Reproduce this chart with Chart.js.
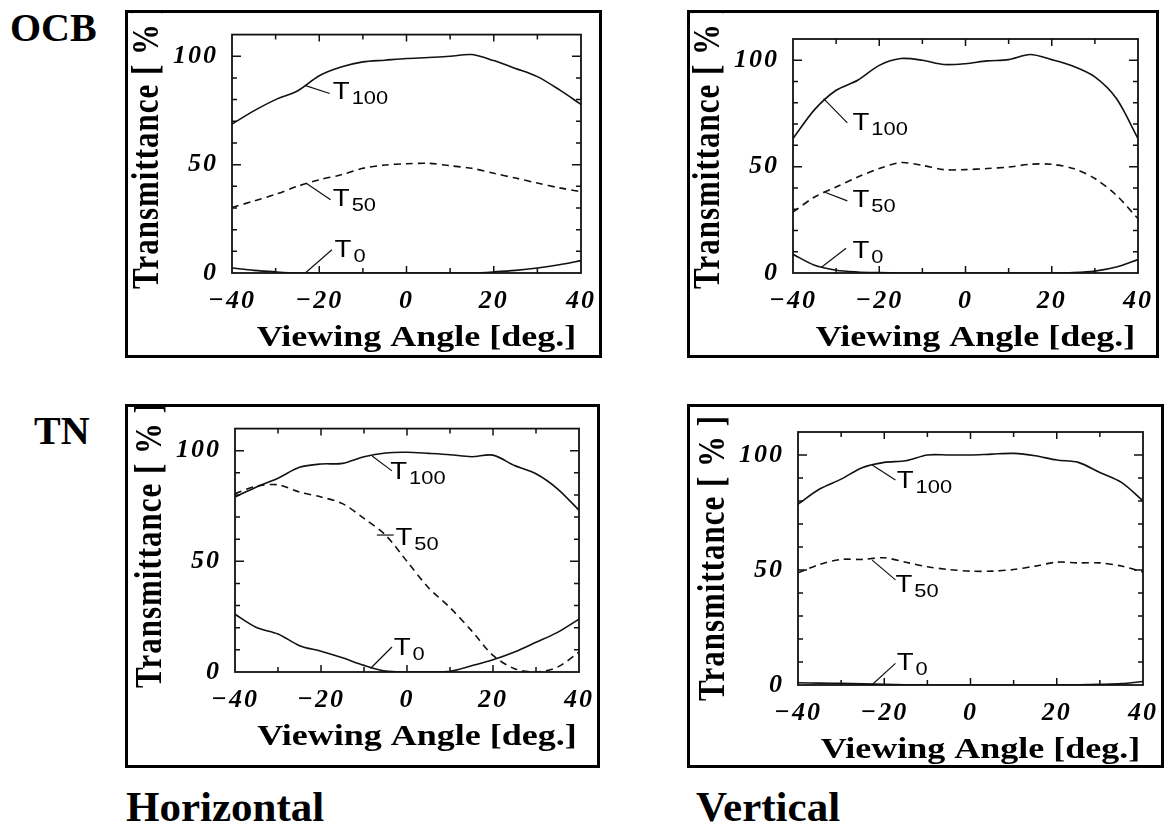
<!DOCTYPE html>
<html>
<head>
<meta charset="utf-8">
<script src="https://cdn.jsdelivr.net/npm/chart.js@4.4.1/dist/chart.umd.min.js"></script>
<style>
  html, body { margin: 0; padding: 0; background: #fff; }
  body { width: 1168px; height: 825px; position: relative; overflow: hidden; }
  .panel { position: absolute; border: 3px solid #000; box-sizing: border-box; background: #fff; }
  .panel canvas { display: block; }
  .tag { position: absolute; font: bold 40px/40px "Liberation Serif", "Times New Roman", serif; color: #000; white-space: nowrap; }
  .tag.big { font-size: 43px; line-height: 43px; }
</style>
</head>
<body>
<div class="tag" style="left:10px; top:8px;">OCB</div>
<div class="tag" style="left:34px; top:411px;">TN</div>
<div class="tag big" style="left:126px; top:785px;">Horizontal</div>
<div class="tag big" style="left:696px; top:785px;">Vertical</div>

<div class="panel" style="left:125px; top:10px; width:477px; height:348px;"><canvas id="ocbH" width="471" height="342"></canvas></div>
<div class="panel" style="left:687px; top:10px; width:472px; height:348px;"><canvas id="ocbV" width="466" height="342"></canvas></div>
<div class="panel" style="left:125px; top:404px; width:475px; height:364px;"><canvas id="tnH" width="469" height="358"></canvas></div>
<div class="panel" style="left:687px; top:404px; width:477px; height:364px;"><canvas id="tnV" width="471" height="358"></canvas></div>

<script>
// Viewing angles (deg.) at which transmittance was sampled
const angles = [-40, -35, -30, -25, -20, -15, -10, -5, 0, 5, 10, 15, 20, 25, 30, 35, 40];

// OCB cell, horizontal direction (%)
const ocbHorizT100 = [68.7, 74.8, 80, 84, 91, 95, 97.4, 98.2, 99, 99.4, 100, 100.8, 98, 94.4, 90.6, 84.6, 77.8];
const ocbHorizT50  = [30.2, 33.2, 36.3, 40, 43, 45.3, 48.3, 49.8, 50.4, 50.6, 49.5, 48.3, 46, 43.8, 41.5, 39.3, 37.5];
const ocbHorizT0   = [2.3, 1.2, 0.5, 0, 0, 0, 0, 0, 0, 0, 0, 0, 0.5, 1.2, 2.3, 3.8, 5.7];

// OCB cell, vertical direction (%)
const ocbVertT100 = [63.2, 76.8, 85.9, 90.6, 97.6, 100.8, 100, 98, 98.4, 99.7, 100.3, 102.7, 100.3, 97.2, 92.2, 82, 63.2];
const ocbVertT50  = [28.7, 35.7, 40.4, 45.1, 49.1, 51.9, 50.6, 48.6, 48.6, 49.1, 49.8, 51.1, 51.1, 49.1, 44.4, 36.5, 25.5];
const ocbVertT0   = [8.8, 3.6, 1.3, 0.5, 0.2, 0, 0, 0, 0, 0, 0, 0, 0, 0.2, 0.9, 2.8, 6.3];

// TN cell, horizontal direction (%)
const tnHorizT100 = [79.1, 83.6, 87.6, 92.5, 94, 94.3, 97.3, 99, 99.3, 98.8, 98.2, 97.3, 98, 93.3, 89.6, 82.8, 73.1];
const tnHorizT50  = [80.6, 84, 84.6, 81.3, 79.1, 76.1, 69.4, 61.9, 50, 38.1, 29.1, 18.7, 7.5, 1.5, 0, 2.2, 9];
const tnHorizT0   = [26.1, 20.1, 17.2, 11.9, 9.4, 6.4, 3, 0.4, 0, 0, 0.3, 2.8, 5.5, 9, 13.4, 17.9, 23.9];

// TN cell, vertical direction (%)
const tnVertT100 = [78.6, 85.2, 89.5, 94.6, 96.8, 97.5, 100, 100, 100, 100.4, 100.7, 99.7, 97.8, 96.8, 92.4, 88.1, 80.1];
const tnVertT50  = [48.8, 52.4, 54.6, 54.6, 55.3, 53.4, 51.4, 50.2, 49.5, 49.5, 50.2, 51.7, 53.4, 53.1, 53.1, 51.7, 49.1];
const tnVertT0   = [1, 0.8, 0.7, 0.5, 0.3, 0.1, 0, 0, 0, 0, 0, 0, 0, 0.1, 0.3, 0.6, 1.5];

// Axis tick labels
const xMajorTicks = [-40, -20, 0, 20, 40];
const xTickLabels = ['\u221240', '\u221220', '0', '20', '40'];
const yMajorTicks = [0, 50, 100];
const yTickLabels = ['0', '50', '100'];

// Curve names: main letter + subscript
const curveMain = ['T', 'T', 'T'];
const curveSub  = ['100', '50', '0'];

const xTitle = 'Viewing Angle [deg.]';
const yTitle = 'Transmittance [ % ]';

const INK = '#111';
const TICK_FONT = { family: '"Liberation Serif", "Times New Roman", serif', size: 26, weight: 'bold', style: 'italic' };

function pairs(values) {
  return angles.map((a, i) => ({ x: a, y: values[i] }));
}

function stretchText(ctx, text, x, y, font, o) {
  ctx.save();
  ctx.translate(x, y);
  if (o.rotate) ctx.rotate(o.rotate);
  ctx.scale(o.sx || 1, o.sy || 1);
  ctx.font = font;
  ctx.letterSpacing = o.spacing || '0px';
  ctx.textAlign = o.align || 'left';
  ctx.textBaseline = o.baseline || 'alphabetic';
  ctx.fillStyle = '#000';
  ctx.fillText(text, 0, 0);
  ctx.restore();
}

// Spaced tick lettering while scales draw, plain spacing for everything after
const tickSpacing = {
  id: 'tickSpacing',
  beforeDraw(chart) { chart.ctx.letterSpacing = '2px'; },
  beforeDatasetsDraw(chart) { chart.ctx.letterSpacing = '0px'; }
};

// Plot frame with inward ticks on all four sides
const framePlugin = {
  id: 'frame',
  afterDatasetsDraw(chart) {
    const { ctx, chartArea: a, scales: { x, y } } = chart;
    ctx.save();
    ctx.strokeStyle = INK;
    ctx.lineWidth = 1.8;
    ctx.strokeRect(a.left, a.top, a.right - a.left, a.bottom - a.top);
    ctx.lineWidth = 1.5;
    ctx.beginPath();
    x.ticks.forEach(t => {
      if (t.value <= x.min || t.value >= x.max) return;
      const px = x.getPixelForValue(t.value);
      const len = xMajorTicks.includes(t.value) ? 7 : 5;
      ctx.moveTo(px, a.bottom); ctx.lineTo(px, a.bottom - len);
      ctx.moveTo(px, a.top); ctx.lineTo(px, a.top + len);
    });
    y.ticks.forEach(t => {
      if (t.value <= y.min || t.value >= y.max) return;
      const py = y.getPixelForValue(t.value);
      const len = yMajorTicks.includes(t.value) ? 9 : 5;
      ctx.moveTo(a.left, py); ctx.lineTo(a.left + len, py);
      ctx.moveTo(a.right, py); ctx.lineTo(a.right - len, py);
    });
    ctx.stroke();
    ctx.restore();
  }
};

// Axis titles and curve labels with leader lines
const notesPlugin = {
  id: 'notes',
  afterDraw(chart, args, opts) {
    const { ctx, chartArea: a, scales: { x, y } } = chart;
    const serif = '"Liberation Serif", "Times New Roman", serif';
    stretchText(ctx, xTitle, (a.left + a.right) / 2 + 10, a.bottom + 65,
      'bold 30px ' + serif, { align: 'center', baseline: 'middle', sx: 1.2 });
    stretchText(ctx, yTitle, a.left - 84, a.bottom + 16,
      'bold 31px ' + serif, { align: 'left', baseline: 'middle', rotate: -Math.PI / 2, sy: 1.2, spacing: '1px' });

    const sans = '"Liberation Sans", Arial, sans-serif';
    (opts.items || []).forEach(n => {
      ctx.save();
      ctx.strokeStyle = INK;
      ctx.lineWidth = 1.2;
      ctx.beginPath();
      ctx.moveTo(x.getPixelForValue(n.leader[0]), y.getPixelForValue(n.leader[1]));
      ctx.lineTo(x.getPixelForValue(n.leader[2]), y.getPixelForValue(n.leader[3]));
      ctx.stroke();
      ctx.restore();
      const px = x.getPixelForValue(n.at[0]);
      const py = y.getPixelForValue(n.at[1]);
      stretchText(ctx, curveMain[n.curve], px, py, '24px ' + sans, { sx: 1.15 });
      ctx.save();
      ctx.font = '24px ' + sans;
      const w = ctx.measureText(curveMain[n.curve]).width * 1.15;
      ctx.restore();
      stretchText(ctx, curveSub[n.curve], px + w + 2, py + 5, '19px ' + sans, { sx: 1.15 });
    });
  }
};

function makePanel(id, t100, t50, t0, g, notes) {
  new Chart(document.getElementById(id), {
    type: 'line',
    data: {
      datasets: [
        { label: 'T100', data: pairs(t100) },
        { label: 'T50', data: pairs(t50), borderDash: [7, 5] },
        { label: 'T0', data: pairs(t0) }
      ]
    },
    options: {
      responsive: false,
      animation: false,
      events: [],
      layout: { padding: { left: 0, top: g.top, right: g.right, bottom: 0 } },
      elements: {
        point: { radius: 0 },
        line: { borderWidth: 1.6, borderColor: INK, tension: 0.3, fill: false }
      },
      plugins: {
        legend: { display: false },
        tooltip: { enabled: false },
        title: { display: false },
        notes: { items: notes }
      },
      scales: {
        x: {
          type: 'linear', min: -40, max: 40,
          grid: { display: false }, border: { display: false },
          ticks: {
            stepSize: 10, autoSkip: false, maxRotation: 0, minRotation: 0, padding: 5,
            color: '#000', font: TICK_FONT,
            callback: v => { const i = xMajorTicks.indexOf(v); return i >= 0 ? xTickLabels[i] : ''; }
          },
          afterFit: s => { s.height = g.bottom; }
        },
        y: {
          type: 'linear', min: 0, max: 110,
          grid: { display: false }, border: { display: false },
          ticks: {
            stepSize: 10, autoSkip: false, padding: 6,
            color: '#000', font: TICK_FONT,
            callback: v => { const i = yMajorTicks.indexOf(v); return i >= 0 ? yTickLabels[i] : ''; }
          },
          afterFit: s => { s.width = g.left; }
        }
      }
    },
    plugins: [tickSpacing, framePlugin, notesPlugin]
  });
}

makePanel('ocbH', ocbHorizT100, ocbHorizT50, ocbHorizT0,
  { left: 104, top: 18, right: 17, bottom: 82 },
  [
    { curve: 0, at: [-16.9, 80.5], leader: [-23.3, 86.6, -17.6, 82.8] },
    { curve: 1, at: [-16.9, 30.8], leader: [-22.9, 41.3, -17.4, 33.8] },
    { curve: 2, at: [-16.5, 7.4], leader: [-23.2, 0, -17.1, 10.7] }
  ]);

makePanel('ocbV', ocbVertT100, ocbVertT50, ocbVertT0,
  { left: 103, top: 26, right: 13, bottom: 82 },
  [
    { curve: 0, at: [-26.2, 67.1], leader: [-32.9, 82, -27.4, 70.6] },
    { curve: 1, at: [-26.2, 31.1], leader: [-32.9, 38.2, -27.4, 33.9] },
    { curve: 2, at: [-26.2, 6.9], leader: [-33.4, 2.7, -27.7, 11.6] }
  ]);

makePanel('tnH', tnHorizT100, tnHorizT50, tnHorizT0,
  { left: 107, top: 20, right: 15, bottom: 93 },
  [
    { curve: 0, at: [-3.9, 87.2], leader: [-8.1, 97.6, -3.5, 90.9] },
    { curve: 1, at: [-2.7, 57.4], leader: [-7.0, 61.9, -3.1, 61.9] },
    { curve: 2, at: [-3.1, 7.6], leader: [-8.5, 1.6, -3.5, 11.3] }
  ]);

makePanel('tnV', tnVertT100, tnVertT50, tnVertT0,
  { left: 108, top: 25, right: 13, bottom: 80 },
  [
    { curve: 0, at: [-17.1, 85.5], leader: [-22.8, 95.7, -17.4, 89.1] },
    { curve: 1, at: [-17.4, 40.6], leader: [-22.8, 54.3, -17.4, 45.7] },
    { curve: 2, at: [-17.1, 6.5], leader: [-22.9, 0, -17.4, 9.4] }
  ]);
</script>
</body>
</html>
